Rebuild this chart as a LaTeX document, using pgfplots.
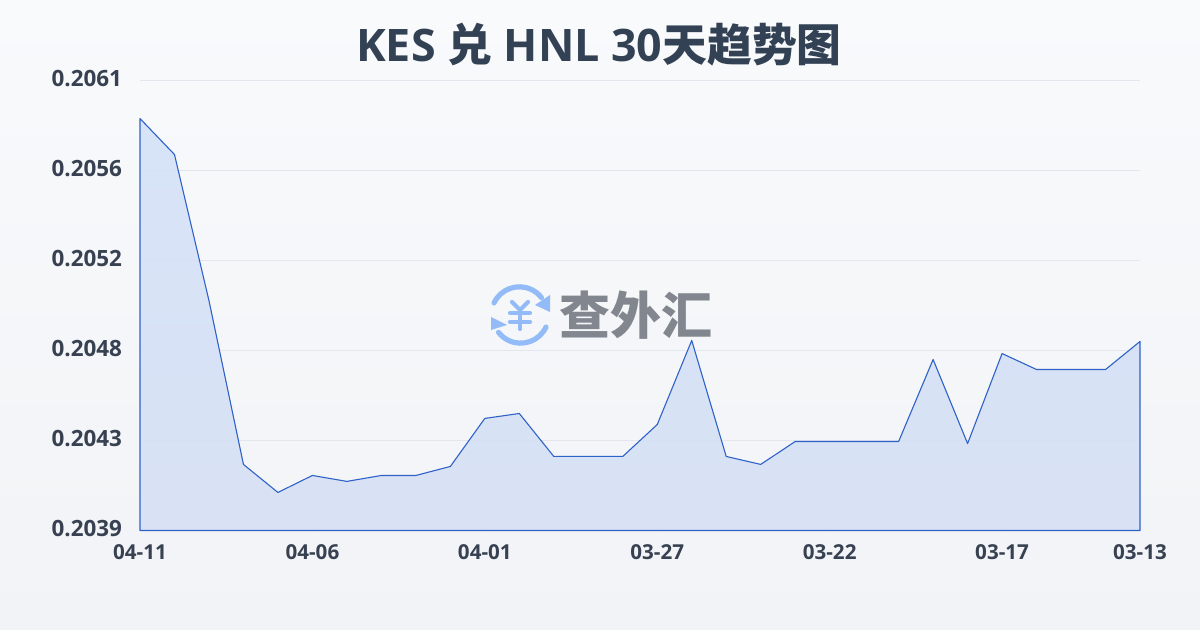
\documentclass[border=0pt]{standalone}
\usepackage{fontspec}
\setmainfont{Open Sans}
\newfontfamily\cjk{Noto Sans CJK SC}
\usepackage{pgfplots}
\pgfplotsset{compat=1.18}
\definecolor{ttl}{HTML}{334155}
\definecolor{lbl}{HTML}{374151}
\definecolor{gridc}{HTML}{E3E6EC}
\definecolor{linec}{HTML}{2F62C8}
\definecolor{bgtop}{HTML}{F8FAFC}
\definecolor{bgbot}{HTML}{F1F3F6}
\definecolor{logob}{HTML}{93BBF8}
\definecolor{logot}{HTML}{82868E}
\definecolor{filltop}{HTML}{D2E1F8}
\definecolor{fillbot}{HTML}{D5DEF4}
\pgfplotstableread{
i v
0 0.205914
1 0.205738
2 0.205024
3 0.204223
4 0.204086
5 0.204169
6 0.204140
7 0.204169
8 0.204169
9 0.204213
10 0.204448
11 0.204472
12 0.204262
13 0.204262
14 0.204262
15 0.204418
16 0.204829
17 0.204262
18 0.204223
19 0.204335
20 0.204335
21 0.204335
22 0.204335
23 0.204736
24 0.204325
25 0.204765
26 0.204687
27 0.204687
28 0.204687
29 0.204824
}\ratetable
\begin{document}
\begin{tikzpicture}[x=1pt,y=1pt]
\useasboundingbox (0,0) rectangle (600,315);
\shade[top color=bgtop,bottom color=bgbot,draw=none] (0,0) rectangle (600,315);
\node[text=ttl,font=\fontsize{22.4}{26}\selectfont\bfseries,anchor=center] at (299.5,292.5) {KES {\cjk 兑} HNL 30{\cjk 天趋势图}};
\begin{axis}[
  at={(70pt,49.75pt)},anchor=south west,
  scale only axis,width=500pt,height=225pt,
  xmin=0,xmax=29,ymin=0.2039,ymax=0.2061,
  axis line style={draw=none},
  xtick={0,5,10,15,20,25,29},
  xticklabels={04-11,04-06,04-01,03-27,03-22,03-17,03-13},
  ytick={0.2039,0.20434,0.20478,0.20522,0.20566,0.2061},
  yticklabels={0.2039,0.2043,0.2048,0.2052,0.2056,0.2061},
  ymajorgrids,grid style={gridc,line width=0.5pt},
  tick style={draw=gridc,line width=0.5pt},
  major tick length=3pt,
  ytick style={draw=none},
  xtick pos=bottom,
  xticklabel style={text=lbl,font=\fontsize{10.3}{12}\selectfont\bfseries,yshift=-3.5pt},
  yticklabel style={text=lbl,font=\fontsize{11.2}{12}\selectfont\bfseries,anchor=east,xshift=-5.5pt,yshift=1pt},
  axis on top=false,clip=false,
]
\addplot[draw=linec,line width=0.55pt,line join=round,fill opacity=0.85,
  top color=filltop,bottom color=fillbot] table[x=i,y=v]{\ratetable} \closedcycle;
\end{axis}
\begin{scope}[x=0.5pt,y=-0.5pt,shift={(0pt,315pt)}]
  \begin{scope}[draw=logob,fill=logob,line width=2.6pt,line cap=round]
    \draw (494,303) arc[start angle=205,end angle=322,radius=28];
    \fill (550,295) -- (550,312) -- (535,305) -- cycle;
    \draw (546,327) arc[start angle=25,end angle=142,radius=28];
    \fill (491,317) -- (491,330) -- (507,325) -- cycle;
    \draw[line width=2.1pt] (512,302) -- (520,310) -- (528,302);
    \draw[line width=2.1pt] (510,313) -- (530,313) (510,322) -- (530,322) (520,310) -- (520,329);
  \end{scope}
  \node[text=logot,font=\cjk\fontsize{25.5}{28}\selectfont\bfseries,anchor=center] at (636,315) {查外汇};
\end{scope}
\end{tikzpicture}
\end{document}
